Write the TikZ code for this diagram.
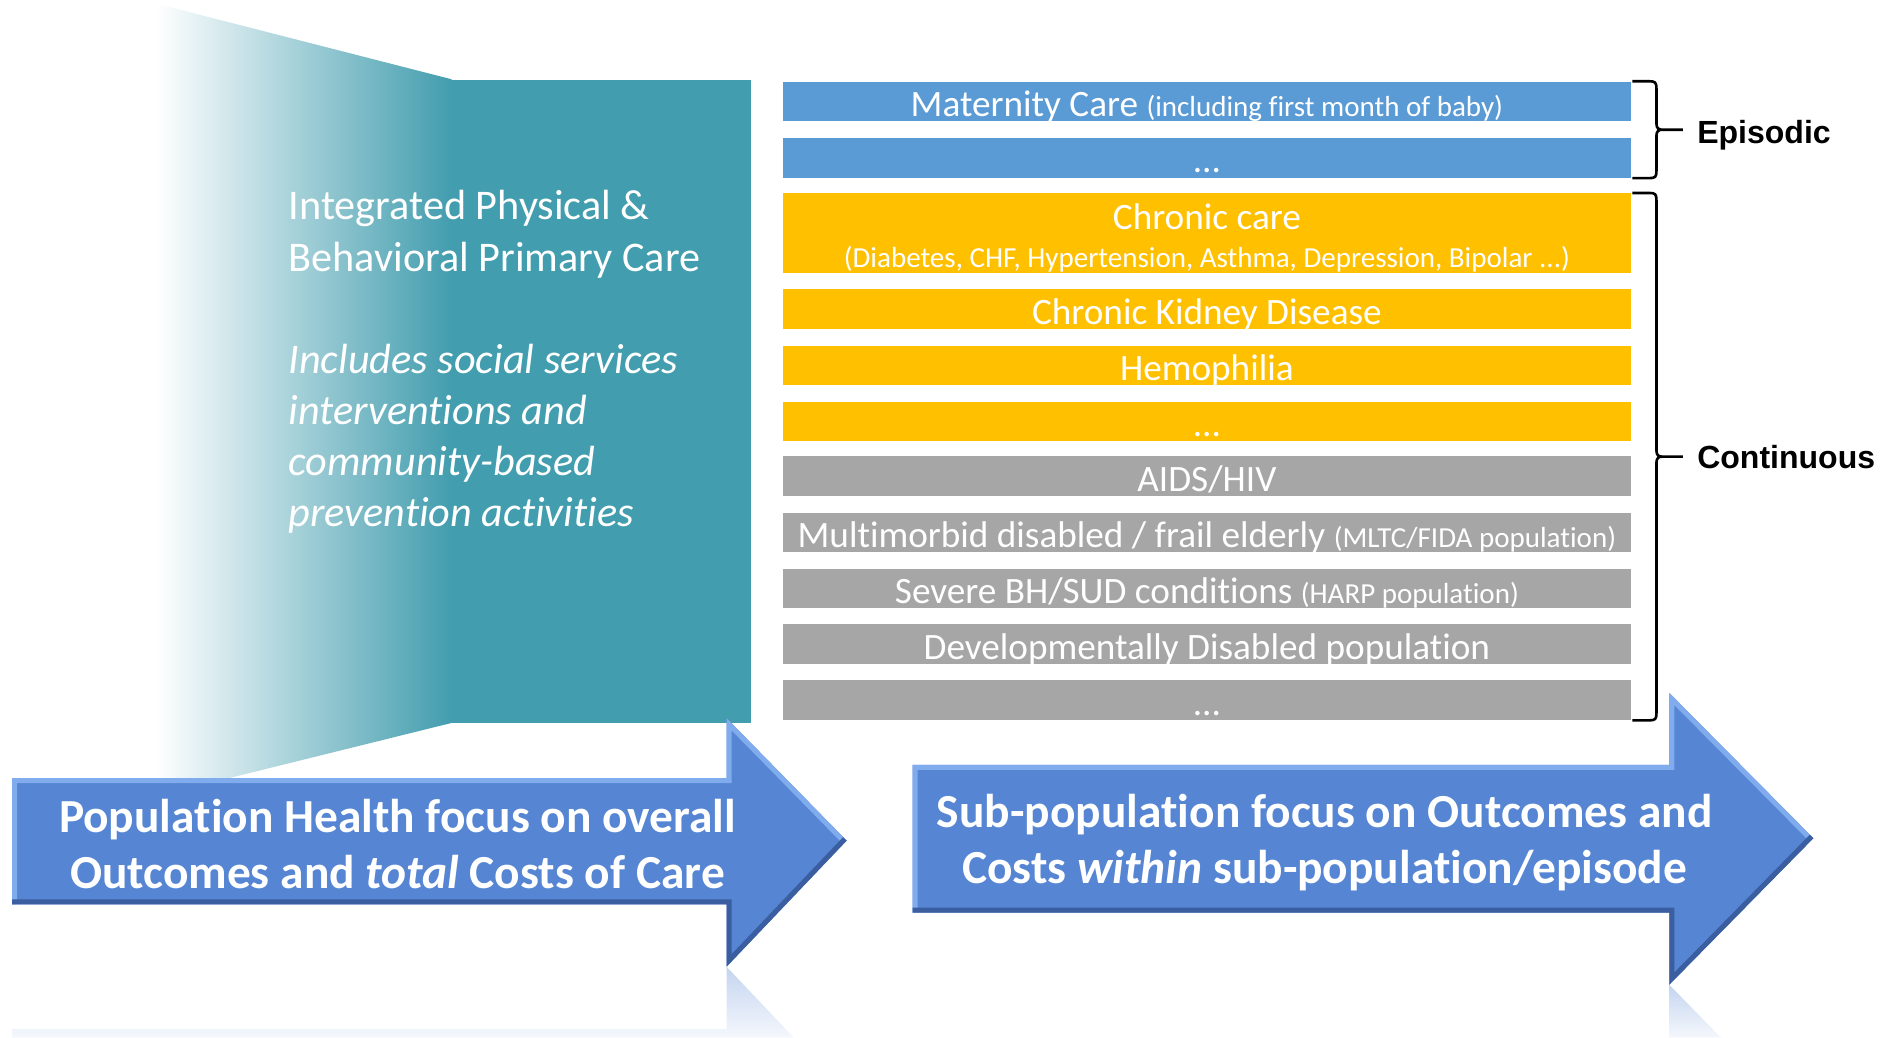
\documentclass[tikz,border=0pt]{standalone}
\usepackage{fontspec}
\setmainfont{Carlito}[Ligatures=NoCommon]
\newfontfamily\labelfont{Liberation Sans}
\usetikzlibrary{positioning}
\usetikzlibrary{calc}
\definecolor{tealbox}{RGB}{66,157,174}
\definecolor{barblue}{RGB}{91,155,213}
\definecolor{barorange}{RGB}{255,192,0}
\definecolor{bargray}{RGB}{166,166,166}
\definecolor{arrowblue}{RGB}{85,133,211}
\definecolor{arrowlight}{RGB}{128,172,238}
\definecolor{arrowdark}{RGB}{58,94,160}
\newcommand\smallfnt{\fontsize{14.5}{17}\selectfont}

\begin{document}
\begin{tikzpicture}[x=0.6pt,y=-0.6pt,
  bar/.style={minimum width=423.6pt,minimum height=19.8pt,inner sep=0pt,
    text=white,font=\fontsize{18.6}{22}\selectfont,text height=15.5pt,text depth=0.5pt},
  bartext/.style={inner sep=0pt,text=white,font=\fontsize{18.6}{22}\selectfont,
    text height=15.5pt,text depth=0.5pt},
  boxtext/.style={inner sep=0pt,text=white,align=left,anchor=north west},
  arrowtext/.style={inner sep=0pt,text=white,align=center,
    font=\fontsize{23.7}{28.2}\selectfont\bfseries},
  sidelabel/.style={inner sep=0pt,anchor=west,font=\labelfont\bfseries\fontsize{16}{19}\selectfont},
  curly/.style={line width=1.3pt,to path={
    -- ++(14,0) .. controls +(5,0) and +(0,-5) .. ++(6,6)
    -- ($(\tikztostart)!0.5!(\tikztotarget)+(20,-5)$)
    .. controls +(0,4) and +(-3,0) .. ++(5,5) -- ++(17,0)
    ++(-17,0) .. controls +(-3,0) and +(0,-4) .. ++(-5,5)
    -- ($(\tikztotarget)+(20,-6)$)
    .. controls +(0,5) and +(5,0) .. ++(-6,6) -- (\tikztotarget)}}]
  \useasboundingbox (0,0) rectangle (1568,864);

  \shade[left color=white,right color=tealbox]
    (130,3) -- (376,66) -- (376,602) -- (130,663) -- cycle;
  \fill[tealbox] (375,67) rectangle (625,602);
  \node[boxtext,font=\fontsize{21.1}{25.8}\selectfont] (ipc) at (240,158)
    {Integrated Physical \&\\Behavioral Primary Care};
  \node[boxtext,font=\fontsize{21.1}{25.6}\selectfont\itshape] (soc) at (240,286)
    {Includes social services\\interventions and\\community-based\\prevention activities};

  \node[bar,fill=barblue] (mat) at (1005,84.5)
    {Maternity Care {\smallfnt (including first month of baby)}};
  \node[bar,fill=barblue] (epd) at (1005,131.5) {...};
  \node[bar,fill=barorange,minimum height=39.6pt] (chr) at (1005,194) {};
  \node[bartext] (chrt) at (1005,178.5) {Chronic care};
  \node[bartext,font=\smallfnt] (chrs) at (1005,210.5)
    {(Diabetes, CHF, Hypertension, Asthma, Depression, Bipolar ...)};
  \node[bar,fill=barorange] (ckd) at (1005,257.5) {Chronic Kidney Disease};
  \node[bar,fill=barorange] (hem) at (1005,304.5) {Hemophilia};
  \node[bar,fill=barorange] (ord) at (1005,351) {...};
  \node[bar,fill=bargray] (aid) at (1005,396.5) {AIDS/HIV};
  \node[bar,fill=bargray] (mul) at (1005,443.5)
    {Multimorbid disabled / frail elderly {\smallfnt (MLTC/FIDA population)}};
  \node[bar,fill=bargray] (sev) at (1005,490)
    {Severe BH/SUD conditions {\smallfnt (HARP population)}};
  \node[bar,fill=bargray] (dev) at (1005,536.5) {Developmentally Disabled population};
  \node[bar,fill=bargray] (grd) at (1005,583) {...};

  \draw[curly] ([xshift=0.6pt]mat.north east) to ([xshift=0.6pt]epd.south east);
  \draw[curly] ([xshift=0.6pt]chr.north east) to ([xshift=0.6pt]grd.south east);
  \node[sidelabel] (epi) at (1413,113) {Episodic};
  \node[sidelabel] (con) at (1413,381) {Continuous};

  \fill[arrowblue] (10,648) -- (605,648) -- (605,598) -- (705,700)
    -- (605,805) -- (605,753) -- (10,753) -- cycle;
  \begin{scope}
    \clip (10,648) -- (605,648) -- (605,598) -- (705,700)
      -- (605,805) -- (605,753) -- (10,753) -- cycle;
    \draw[arrowlight,line width=5pt] (10,753) -- (10,648) -- (605,648) -- (605,598) -- (705,700);
    \draw[arrowdark,line width=5pt] (705,700) -- (605,805) -- (605,753) -- (10,753);
  \end{scope}
  \shade[top color=arrowblue!35!white,bottom color=arrowblue!6!white]
    (605,805) -- (661,864) -- (10,864) -- (10,857) -- (605,857) -- cycle;
  \node[arrowtext] (pop) at (331,703)
    {Population Health focus on overall\\Outcomes and \textit{total} Costs of Care};

  \fill[arrowblue] (760,637) -- (1390,637) -- (1390,577) -- (1510,698)
    -- (1390,820) -- (1390,760) -- (760,760) -- cycle;
  \begin{scope}
    \clip (760,637) -- (1390,637) -- (1390,577) -- (1510,698)
      -- (1390,820) -- (1390,760) -- (760,760) -- cycle;
    \draw[arrowlight,line width=5pt] (760,760) -- (760,637) -- (1390,637) -- (1390,577) -- (1510,698);
    \draw[arrowdark,line width=5pt] (1510,698) -- (1390,820) -- (1390,760) -- (760,760);
  \end{scope}
  \shade[top color=arrowblue!35!white,bottom color=arrowblue!6!white]
    (1390,820) -- (1433,864) -- (1390,864) -- cycle;
  \node[arrowtext] (sub) at (1103,701.5)
    {Sub-population focus on Outcomes and\\Costs \textit{within} sub-population/episode};
\end{tikzpicture}
\end{document}
